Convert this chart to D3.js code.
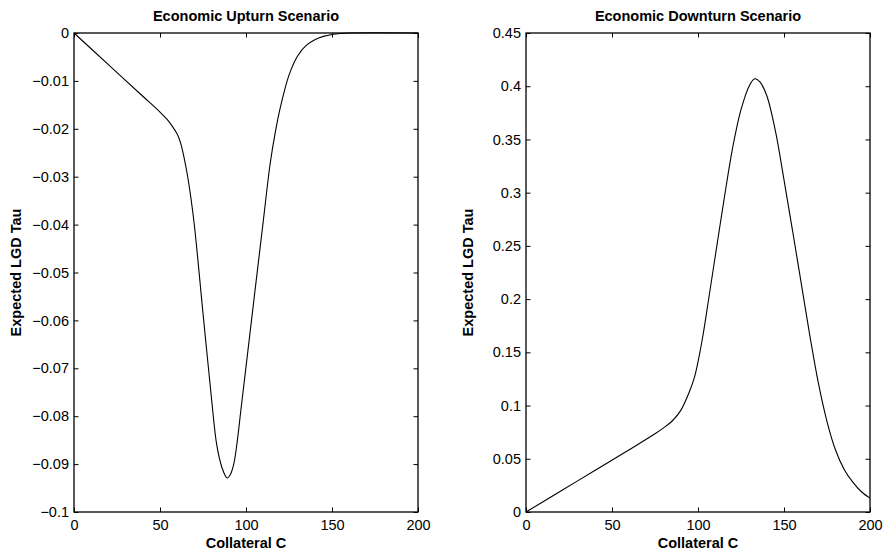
<!DOCTYPE html>
<html>
<head>
<meta charset="utf-8">
<script src="https://cdn.jsdelivr.net/npm/d3@7"></script>
<style>
  body { margin: 0; background: #fff; }
  svg text { font-family: "Liberation Sans", Arial, Helvetica, sans-serif; fill: #000; }
  .tick-label { font-size: 14.5px; }
  .title, .axis-label { font-size: 14.5px; font-weight: bold; }
</style>
</head>
<body>
<svg id="chart" width="883" height="551"></svg>
<script>
const xTicks = [0, 50, 100, 150, 200];

// Economic upturn: expected LGD tau vs collateral C
const upturnC = [0, 20, 40, 50, 54, 57, 60, 62, 64, 66, 68, 70, 75, 80, 83, 86, 89, 91, 93, 95, 97, 100, 105, 110, 114, 117, 120, 125, 130, 135, 140, 145, 150, 155, 160, 200];
const upturnTau = [0, -0.0066, -0.0132, -0.0165, -0.0180, -0.0194, -0.0211, -0.0230, -0.0260, -0.0298, -0.0345, -0.0402, -0.0585, -0.0765, -0.0860, -0.0907, -0.0929, -0.0921, -0.0898, -0.0850, -0.0788, -0.0697, -0.0545, -0.0394, -0.0274, -0.0208, -0.0155, -0.0088, -0.0048, -0.0026, -0.0014, -0.0007, -0.0003, -0.0001, 0, 0];
const upturnYTicks = [0, -0.01, -0.02, -0.03, -0.04, -0.05, -0.06, -0.07, -0.08, -0.09, -0.1];

// Economic downturn
const downturnC = [0, 20, 40, 60, 75, 80, 85, 90, 95, 98, 100, 103, 106, 110, 115, 120, 125, 130, 133, 136, 140, 145, 150, 155, 160, 165, 170, 175, 180, 185, 190, 195, 200];
const downturnTau = [0, 0.0195, 0.039, 0.0585, 0.0735, 0.079, 0.0855, 0.0955, 0.113, 0.127, 0.141, 0.167, 0.198, 0.240, 0.292, 0.341, 0.378, 0.401, 0.407, 0.404, 0.391, 0.358, 0.312, 0.264, 0.215, 0.166, 0.121, 0.085, 0.058, 0.040, 0.028, 0.019, 0.013];
const downturnYTicks = [0, 0.05, 0.1, 0.15, 0.2, 0.25, 0.3, 0.35, 0.4, 0.45];

const svg = d3.select('#chart');
const plotTop = 33, plotBottom = 512;
const tickLen = 4.5;
const fmt = d3.format('~g');

const panels = [
  { left: 74, right: 418, title: 'Economic Upturn Scenario', yDomain: [-0.1, 0], yTicks: upturnYTicks, xs: upturnC, ys: upturnTau },
  { left: 526, right: 870, title: 'Economic Downturn Scenario', yDomain: [0, 0.45], yTicks: downturnYTicks, xs: downturnC, ys: downturnTau }
];

panels.forEach(p => {
  const x = d3.scaleLinear().domain([0, 200]).range([p.left, p.right]);
  const y = d3.scaleLinear().domain(p.yDomain).range([plotBottom, plotTop]);
  const g = svg.append('g');

  // inward ticks on all four sides
  g.append('g').attr('transform', `translate(0,${plotBottom})`)
    .call(d3.axisBottom(x).tickValues(xTicks).tickSizeInner(-tickLen).tickSizeOuter(0).tickPadding(8).tickFormat(fmt))
    .call(a => a.select('.domain').remove());
  g.append('g').attr('transform', `translate(0,${plotTop})`)
    .call(d3.axisTop(x).tickValues(xTicks).tickSizeInner(-tickLen).tickSizeOuter(0).tickFormat(''))
    .call(a => a.select('.domain').remove());
  g.append('g').attr('transform', `translate(${p.left},0)`)
    .call(d3.axisLeft(y).tickValues(p.yTicks).tickSizeInner(-tickLen).tickSizeOuter(0).tickPadding(5).tickFormat(fmt))
    .call(a => a.select('.domain').remove());
  g.append('g').attr('transform', `translate(${p.right},0)`)
    .call(d3.axisRight(y).tickValues(p.yTicks).tickSizeInner(-tickLen).tickSizeOuter(0).tickFormat(''))
    .call(a => a.select('.domain').remove());

  g.selectAll('.tick line').attr('stroke', '#000').attr('stroke-width', 1);
  g.selectAll('.tick text').attr('class', 'tick-label').attr('fill', null);
  g.selectAll('g').attr('font-size', null).attr('font-family', null);

  g.append('rect')
    .attr('x', p.left).attr('y', plotTop)
    .attr('width', p.right - p.left).attr('height', plotBottom - plotTop)
    .attr('fill', 'none').attr('stroke', '#000').attr('stroke-width', 1.3);

  const line = d3.line()
    .x((d, i) => x(p.xs[i]))
    .y(d => y(d))
    .curve(d3.curveCatmullRom.alpha(0.5));
  g.append('path')
    .datum(p.ys)
    .attr('d', line)
    .attr('fill', 'none')
    .attr('stroke', '#000')
    .attr('stroke-width', 1.1);

  const cx = (p.left + p.right) / 2;
  g.append('text').attr('class', 'title')
    .attr('x', cx).attr('y', 21).attr('text-anchor', 'middle')
    .text(p.title);
  g.append('text').attr('class', 'axis-label')
    .attr('x', cx).attr('y', 548).attr('text-anchor', 'middle')
    .text('Collateral C');
  g.append('text').attr('class', 'axis-label')
    .attr('transform', `translate(${p.left - 53},${(plotTop + plotBottom) / 2}) rotate(-90)`)
    .attr('text-anchor', 'middle')
    .text('Expected LGD Tau');
});
</script>
</body>
</html>
